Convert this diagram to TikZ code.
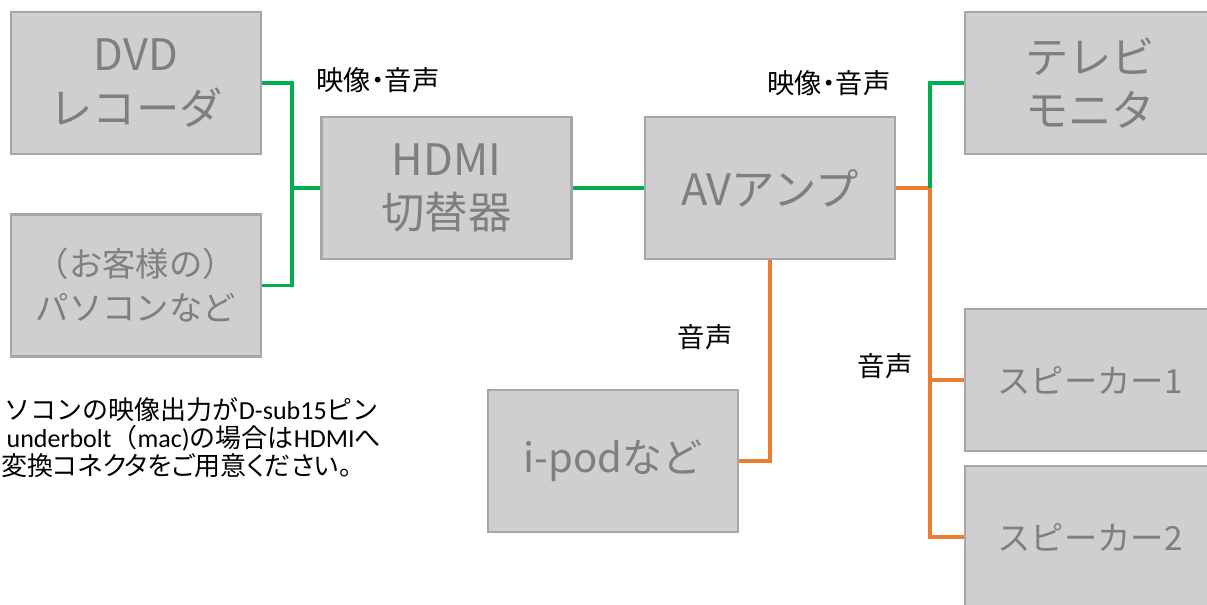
\documentclass[tikz,border=0pt]{standalone}
\usepackage{fontspec}
\setmainfont{Noto Sans CJK JP}
\newfontfamily\jp{Noto Sans CJK JP}
\newfontfamily\jpp[RawFeature=+palt]{Noto Sans CJK JP}
\newfontfamily\lat{Carlito}
\definecolor{boxfill}{HTML}{D0CECE}
\definecolor{boxline}{HTML}{A6A6A6}
\definecolor{boxtext}{HTML}{7F7F7F}
\definecolor{lgreen}{HTML}{00B050}
\definecolor{lorange}{HTML}{ED7D31}
\begin{document}
\begin{tikzpicture}[x=0.75pt,y=-0.75pt,
  dev/.style={draw=boxline, fill=boxfill, line width=2pt,
    minimum width=187.5pt, minimum height=106.5pt, inner sep=0pt,
    text=boxtext, font=\jp\fontsize{32.5}{40}\selectfont, align=center},
  smalltext/.style={font=\jp\fontsize{25}{33}\selectfont},
  vline/.style={line width=2.4pt, draw=lgreen},
  aline/.style={line width=2.4pt, draw=lorange},
  lbl/.style={font=\jpp\fontsize{20.5}{22}\selectfont, text=black, inner sep=0pt},
  note/.style={font=\fontsize{19.5}{21}\selectfont, text=black, anchor=east,
    inner sep=0pt, text height=13pt, text depth=3pt}]
\useasboundingbox (0,0) rectangle (1207,604);
\fill[white] (0,0) rectangle (1207,604);
% devices
\node[dev] (dvd)  at (136,83)    {DVD\\レコーダ};
\node[dev, smalltext] (pc) at (136,285.5) {（お客様の）\\パソコンなど};
\node[dev] (hdmi) at (446.5,188) {HDMI\\切替器};
\node[dev] (av)   at (770,188)   {AVアンプ};
\node[dev] (tv)   at (1090,83)   {テレビ\\モニタ};
\node[dev, font=\jp\fontsize{30}{40}\selectfont] (ipod) at (613,461) {i-podなど};
\node[dev, smalltext] (sp1) at (1090,380) {スピーカー1};
\node[dev, smalltext] (sp2) at (1090,537) {スピーカー2};
% junctions
\coordinate (j1) at (292,188);
\coordinate (j2) at (930,188);
% connectors
\draw[vline] (dvd.east) -| (j1) -- (hdmi.west);
\draw[vline] (pc.east) -| (j1);
\draw[vline] (hdmi.east) -- (av.west);
\draw[aline] (av.east) -- (j2);
\draw[vline] (j2) |- (tv.west);
\draw[aline] (j2) |- (sp1.west);
\draw[aline] (j2) |- (sp2.west);
\draw[aline] (av.south) |- (ipod.east);
% labels
\node[lbl] (l1) at (378,80)  {映像・音声};
\node[lbl] (l2) at (829,83)  {映像・音声};
\node[lbl] (l3) at (705,337) {音声};
\node[lbl] (l4) at (885,366) {音声};
% note
\node[note] (n1) at (379,413) {{\jp ソコンの映像出力が}{\lat D-sub15}{\jp ピン}};
\node[note] (n2) at (381,441) {{\lat underbolt}{\jp （}{\lat mac)}{\jp の場合は}{\lat HDMI}{\jp へ}};
\node[note] (n3) at (352,469) {{\jpp 変換コネクタをご用意ください。}};
\end{tikzpicture}
\end{document}
